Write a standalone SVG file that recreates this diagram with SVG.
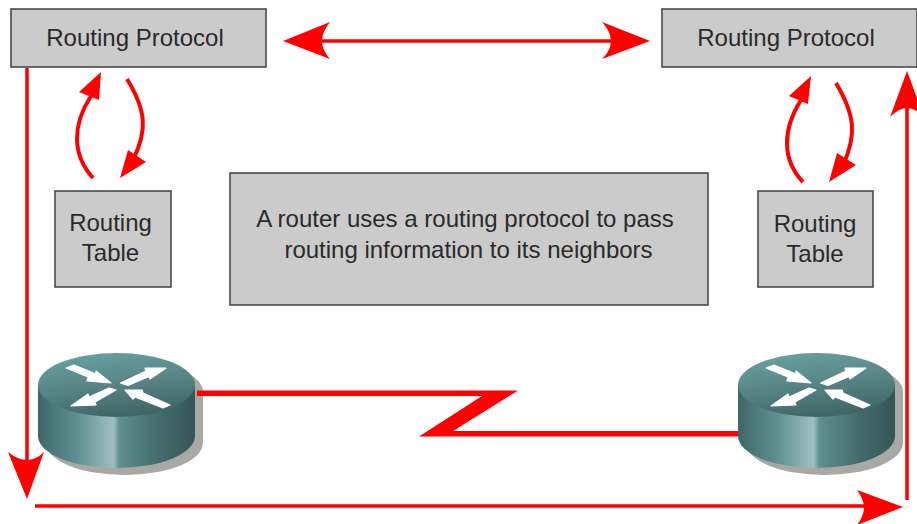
<svg xmlns="http://www.w3.org/2000/svg" xmlns:xlink="http://www.w3.org/1999/xlink" width="917" height="524" viewBox="0 0 917 524">
<style>
.box{fill:#cbcbcb;stroke:#4a4a4a;stroke-width:1.6}
.t{font-family:"Liberation Sans",Arial,sans-serif;font-size:24px;fill:#2a2a2a;text-anchor:middle}
.ln{fill:none;stroke:#ff0000;stroke-width:3.500}
.cv{fill:none;stroke:#ff0000;stroke-width:4}
.hd{fill:#ff0000}
.wa{fill:#ffffff;stroke:#ffffff;stroke-width:1.200;stroke-linejoin:round}
</style>
<defs>
<filter id="soft" x="-5%" y="-5%" width="110%" height="110%"><feGaussianBlur stdDeviation="0.6"/></filter>
<linearGradient id="side" x1="0" y1="0" x2="1" y2="0">
<stop offset="0" stop-color="#3f6768"/><stop offset="0.25" stop-color="#5f9091"/><stop offset="0.48" stop-color="#9fbfc0"/><stop offset="0.52" stop-color="#5f8f90"/><stop offset="0.75" stop-color="#456e6e"/><stop offset="1" stop-color="#365556"/>
</linearGradient>
<linearGradient id="top" x1="0.3" y1="0" x2="0.6" y2="1">
<stop offset="0" stop-color="#68a0a1"/><stop offset="0.5" stop-color="#578485"/><stop offset="1" stop-color="#3e6465"/>
</linearGradient>
<g id="router" filter="url(#soft)">
<path d="M46 392V443A78.500 32 0 0 0 203 443V392A78.500 32 0 0 0 46 392Z" fill="#a8a8a4"/>
<path d="M38 385V436A78.500 32 0 0 0 195 436V385Z" fill="url(#side)"/>
<ellipse cx="116.500" cy="385" rx="78.500" ry="32" fill="url(#top)"/>
<polygon class="wa" points="66,368 74,365 96,374 96,371 111,383 87,381 88,377"/>
<polygon class="wa" points="120.500,383 146,371 145,368 166,368 150,379 149,376.500 128,385.500"/>
<polygon class="wa" points="109,388 116,390 95,402 96,405 71,406 88,394 89,397"/>
<polygon class="wa" points="125,390 142,390 143,393 170,405 163,408 135,397 133,399"/>
</g>
</defs>
<rect width="917" height="524" fill="#ffffff"/>
<g id="router-left"><use xlink:href="#router" href="#router"/></g>
<g id="router-right"><use xlink:href="#router" href="#router" x="700"/></g>
<g id="connectors">
<path class="ln" d="M27 68V460"/>
<path class="hd" d="M8 452Q18 460 27 460Q36 460 44 452L27 499Z"/>
<path class="ln" d="M35 506H866"/>
<path class="hd" d="M857 490Q864 500 864 507Q864 516 857 525L903 507Z"/>
<path class="ln" d="M907 500V105"/>
<path class="hd" d="M890 117Q899 108 907 108Q915 108 924 117L907 71Z"/>
<path class="ln" d="M320 41H612"/>
<path class="hd" d="M283 41L330 22Q322 32 322 41Q322 50 330 59Z"/>
<path class="hd" d="M650 41L602 22Q611 32 611 41Q611 50 602 59Z"/>
<polygon class="hd" points="197,390.500 518,390.500 453,431 738,431 738,436.500 419,436.500 482,396 197,396"/>
<path class="cv" d="M93 178C72 155 72 125 91 96"/>
<polygon class="hd" points="101,72 79,92 99,100"/>
<path class="cv" d="M127 79C146 110 148 130 133 160"/>
<polygon class="hd" points="120,178 128,150 146,162"/>
<path class="cv" d="M803 182C782 160 782 130 801 100"/>
<polygon class="hd" points="811,76 789,96 808,104"/>
<path class="cv" d="M836 83C855 115 857 135 843 165"/>
<polygon class="hd" points="829,182 837,153 856,165"/>
</g>
<g id="protocol-left"><rect class="box" x="11" y="9" width="255" height="58"/><text class="t" x="135" y="46">Routing Protocol</text></g>
<g id="protocol-right"><rect class="box" x="662" y="9" width="255" height="58"/><text class="t" x="786" y="46">Routing Protocol</text></g>
<g id="table-left"><rect class="box" x="55" y="191" width="116" height="96"/><text class="t" x="110.500" y="231">Routing</text><text class="t" x="110.500" y="261">Table</text></g>
<g id="table-right"><rect class="box" x="758" y="191" width="115" height="96"/><text class="t" x="815" y="232">Routing</text><text class="t" x="815" y="262">Table</text></g>
<g id="note"><rect class="box" x="230" y="173" width="478" height="132"/><text class="t" x="465" y="227">A router uses a routing protocol to pass</text><text class="t" x="468.500" y="258">routing information to its neighbors</text></g>
</svg>
